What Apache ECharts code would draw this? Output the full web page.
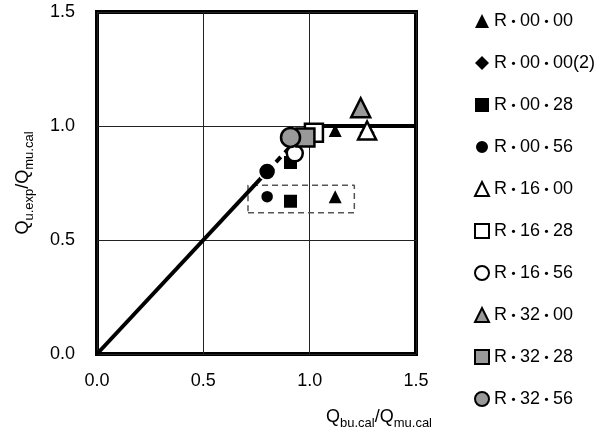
<!DOCTYPE html>
<html>
<head>
<meta charset="utf-8">
<script src="https://cdn.jsdelivr.net/npm/echarts@6/dist/echarts.min.js"></script>
<style>html,body{margin:0;padding:0;background:#fff}#c{width:607px;height:432px}</style>
</head>
<body>
<div id="c"></div>
<script>
// ---- data ----
var xTicks = [0.0, 0.5, 1.0, 1.5];
var yTicks = [0.0, 0.5, 1.0, 1.5];
var seriesNames = ['R・00・00','R・00・00(2)','R・00・28','R・00・56','R・16・00','R・16・28','R・16・56','R・32・00','R・32・28','R・32・56'];
var r0000 = [[1.12, 0.98], [1.12, 0.69]];
var r0000b = [[1.27, 0.97]];
var r0028 = [[0.91, 0.84], [0.91, 0.67]];
var r0056 = [[0.80, 0.80], [0.80, 0.69]];
var r1600 = [[1.27, 0.98]];
var r1628 = [[1.02, 0.97]];
var r1656 = [[0.93, 0.88]];
var r3200 = [[1.24, 1.08]];
var r3228 = [[0.98, 0.95]];
var r3256 = [[0.91, 0.95]];
var limitSolid = [[0, 0], [0.8, 0.8]];
var limitDashed = [[0.8, 0.8], [1.0, 1.0]];
var limitFlat = [[1.0, 1.0], [1.5, 1.0]];
var boxX = [0.71, 1.21];
var boxY = [0.62, 0.74];

// ---- chart ----
var FONT = "'Liberation Sans', 'Noto Sans CJK JP', sans-serif";
var chart = echarts.init(document.getElementById('c'), null, {renderer: 'canvas'});

function sc(name, data, symbol, size, color, bw, bc) {
  return {
    type: 'scatter', name: name, data: data, symbol: symbol, symbolSize: size,
    itemStyle: {color: color, borderColor: bc || '#000', borderWidth: bw || 0, opacity: 1},
    z: 5
  };
}
function lineS(data, type, z) {
  return {
    type: 'line', data: data, showSymbol: false, symbol: 'none', silent: true,
    lineStyle: {color: '#000', width: 4, type: type, dashOffset: 0}, z: z || 3,
    animation: false
  };
}
var boxData = [[boxX[0], boxY[0]], [boxX[1], boxY[0]], [boxX[1], boxY[1]], [boxX[0], boxY[1]], [boxX[0], boxY[0]]];

var r0056Data = r0056.map(function (p, i) {
  return {value: p, symbolSize: i === 0 ? 17 : 13};
});

var titleRich = {
  m: {fontSize: 18, fontFamily: FONT, color: '#000', lineHeight: 22, verticalAlign: 'bottom'},
  s: {fontSize: 13, fontFamily: FONT, color: '#000', lineHeight: 22, verticalAlign: 'bottom', padding: [0, 0, -4, 0]}
};

var option = {
  animation: false,
  backgroundColor: '#fff',
  grid: {left: 97, right: 191, top: 12, bottom: 78, show: true, borderColor: '#000', borderWidth: 4, backgroundColor: 'transparent'},
  xAxis: {
    type: 'value', min: 0, max: 1.5, interval: 0.5,
    axisLine: {show: false}, axisTick: {show: false},
    splitLine: {show: true, lineStyle: {color: '#222', width: 1}},
    axisLabel: {fontSize: 18, color: '#000', fontFamily: FONT, margin: 18, formatter: function (v) { return v.toFixed(1); }},
    name: '{m|Q}{s|bu.cal}{m|/Q}{s|mu.cal}', nameLocation: 'end', nameGap: 16,
    nameTextStyle: {align: 'right', verticalAlign: 'top', padding: [50, 0, 0, 0], rich: titleRich}
  },
  yAxis: {
    type: 'value', min: 0, max: 1.5, interval: 0.5,
    axisLine: {show: false}, axisTick: {show: false},
    splitLine: {show: true, lineStyle: {color: '#222', width: 1}},
    axisLabel: {fontSize: 18, color: '#000', fontFamily: FONT, margin: 22, formatter: function (v) { return v.toFixed(1); }},
    name: '{m|Q}{s|u.exp}{m|/Q}{s|mu.cal}', nameLocation: 'middle', nameGap: 65, nameRotate: 90,
    nameTextStyle: {padding: [0, 0, 0, 0], rich: titleRich}
  },
  legend: {
    orient: 'vertical', left: 474, top: 12, padding: 0, itemWidth: 14, itemHeight: 14, itemGap: 24,
    data: seriesNames,
    formatter: function (n) { return n.replace(/・/g, '{d|・}'); },
    textStyle: {fontSize: 18, fontFamily: FONT, color: '#000', lineHeight: 18,
      rich: {d: {fontSize: 13, fontWeight: 'bold', fontFamily: "'Noto Sans CJK JP', sans-serif", color: '#000', lineHeight: 18}}},
    selectedMode: false
  },
  series: [
    {
      type: 'line', data: boxData, showSymbol: false, symbol: 'none', silent: true,
      lineStyle: {color: '#555', width: 1.5, type: [6, 4]}, z: 2
    },
    lineS(limitSolid, 'solid', 3),
    lineS(limitDashed, [7, 6], 3),
    lineS(limitFlat, 'solid', 3),
    sc(seriesNames[0], r0000, 'triangle', 13, '#000'),
    sc(seriesNames[1], r0000b, 'diamond', 15, '#000'),
    sc(seriesNames[2], r0028, 'rect', 13, '#000'),
    sc(seriesNames[3], r0056Data, 'circle', 13, '#000', 1.5, '#fff'),
    sc(seriesNames[4], r1600, 'triangle', 18, '#fff', 2.5),
    sc(seriesNames[5], r1628, 'rect', 18, '#fff', 2.5),
    sc(seriesNames[6], r1656, 'circle', 16, '#fff', 2.5),
    sc(seriesNames[7], r3200, 'triangle', 19, '#999', 2.5),
    sc(seriesNames[8], r3228, 'rect', 18, '#999', 2.5),
    sc(seriesNames[9], r3256, 'circle', 19, '#999', 2.5)
  ]
};
chart.setOption(option);
</script>
</body>
</html>
